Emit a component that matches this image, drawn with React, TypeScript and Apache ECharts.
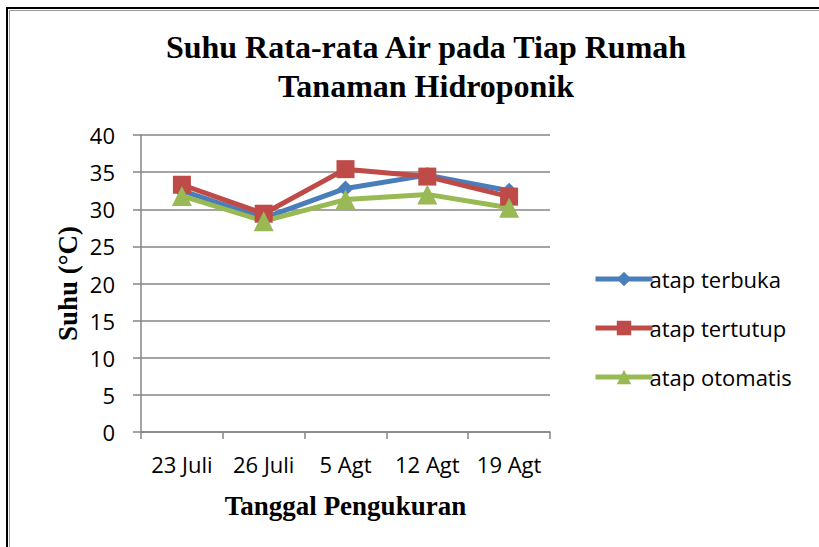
import React, { useEffect, useRef } from "react";
import * as echarts from "echarts";

const categories = ["23 Juli", "26 Juli", "5 Agt", "12 Agt", "19 Agt"];
const atapTerbuka = [32.5, 28.8, 32.8, 34.6, 32.5];
const atapTertutup = [33.3, 29.4, 35.4, 34.4, 31.7];
const atapOtomatis = [31.8, 28.4, 31.3, 32.0, 30.2];

const labelFont = "'Open Sans', Lato, sans-serif";
const serif = "'Liberation Serif', 'Times New Roman', serif";

export default function App() {
  const ref = useRef<HTMLDivElement>(null);
  useEffect(() => {
    if (!ref.current) return;
    const chart = echarts.init(ref.current, undefined, { renderer: "svg" });
    chart.setOption({
      animation: false,
      backgroundColor: "#ffffff",
      title: {
        text: "Suhu Rata-rata Air pada Tiap Rumah\nTanaman Hidroponik",
        left: 421,
        textAlign: "center",
        top: 22,
        textStyle: {
          fontFamily: serif,
          fontWeight: "bold",
          fontSize: 32,
          lineHeight: 39,
          color: "#000",
        },
      },
      graphic: [
        {
          type: "rect",
          shape: { x: 7, y: 8, width: 830, height: 560 },
          style: { fill: "none", stroke: "#000", lineWidth: 2 },
          silent: true,
        },
        {
          type: "rect",
          shape: { x: 9.5, y: 10.5, width: 830, height: 560 },
          style: { fill: "none", stroke: "#999", lineWidth: 1 },
          silent: true,
        },
      ],
      legend: {
        orient: "vertical",
        left: 588,
        top: 263,
        itemWidth: 57,
        itemHeight: 18,
        itemGap: 27,
        lineStyle: { width: 5 },
        textStyle: { fontFamily: labelFont, fontSize: 22, lineHeight: 18, color: "#000", padding: [0, 0, 0, -8] },
        data: ["atap terbuka", "atap tertutup", "atap otomatis"],
      },
      grid: { left: 141, top: 135, width: 409, height: 297, containLabel: false },
      xAxis: {
        type: "category",
        data: categories,
        boundaryGap: true,
        name: "Tanggal Pengukuran",
        nameLocation: "middle",
        nameGap: 60,
        nameTextStyle: { fontFamily: serif, fontWeight: "bold", fontSize: 27, color: "#000" },
        axisLine: { lineStyle: { color: "#868686", width: 1.5 } },
        axisTick: { show: true, interval: 0, length: 7, lineStyle: { color: "#868686", width: 1.5 } },
        axisLabel: { interval: 0, hideOverlap: false, fontFamily: labelFont, fontSize: 22, color: "#000", margin: 21 },
      },
      yAxis: {
        type: "value",
        min: 0,
        max: 40,
        interval: 5,
        name: "Suhu (°C)",
        nameLocation: "middle",
        nameGap: 60,
        nameRotate: 90,
        nameTextStyle: { fontFamily: serif, fontWeight: "bold", fontSize: 27, color: "#000" },
        axisLine: { show: true, lineStyle: { color: "#868686", width: 1.5 } },
        axisTick: { show: true, length: 8, lineStyle: { color: "#868686", width: 1.5 } },
        axisLabel: { fontFamily: labelFont, fontSize: 22, color: "#000", margin: 26 },
        splitLine: { lineStyle: { color: "#868686", width: 1.5 } },
      },
      series: [
        {
          name: "atap terbuka",
          type: "line",
          data: atapTerbuka,
          symbol: "diamond",
          symbolSize: 16,
          lineStyle: { width: 5, color: "#4A7EBB" },
          itemStyle: { color: "#4A7EBB" },
        },
        {
          name: "atap tertutup",
          type: "line",
          data: atapTertutup,
          symbol: "rect",
          symbolSize: 18,
          lineStyle: { width: 5, color: "#BE4B48" },
          itemStyle: { color: "#BE4B48" },
        },
        {
          name: "atap otomatis",
          type: "line",
          data: atapOtomatis,
          symbol: "triangle",
          symbolSize: 20,
          lineStyle: { width: 5, color: "#98B954" },
          itemStyle: { color: "#98B954" },
        },
      ],
    });
    return () => chart.dispose();
  }, []);
  return (
    <div
      ref={ref}
      style={{ position: "fixed", left: 0, top: 0, width: 819, height: 547 }}
    />
  );
}
